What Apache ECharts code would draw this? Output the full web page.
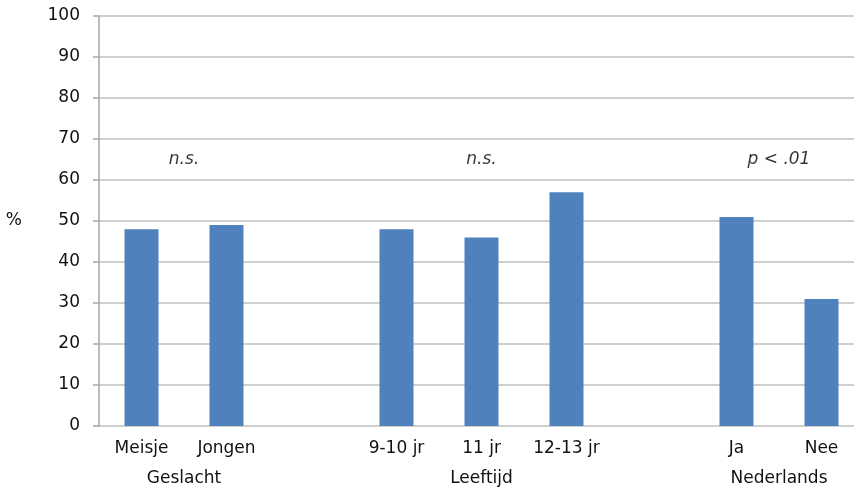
<!DOCTYPE html>
<html>
<head>
<meta charset="utf-8">
<script src="https://cdn.jsdelivr.net/npm/echarts@6/dist/echarts.min.js"></script>
<style>
html,body{margin:0;padding:0;background:#fff;}
#chart{width:854px;height:490px;}
</style>
</head>
<body>
<div id="chart"></div>
<script>
const categories = ['Meisje', 'Jongen', '', '9-10 jr', '11 jr', '12-13 jr', '', 'Ja', 'Nee'];
const values = [48, 49, null, 48, 46, 57, null, 51, 31];
const groupNames = ['Geslacht', 'Leeftijd', 'Nederlands'];
const groupSlots = [2, 9, 16]; // positions on a 19-point half-category scale
const annotations = ['n.s.', 'n.s.', 'p < .01'];
const annotationY = 65;
const yTicks = [0, 10, 20, 30, 40, 50, 60, 70, 80, 90, 100];

const FONT = 'DejaVu Sans';
const halfSlots = Array.from({length: 19}, (_, i) => {
  const g = groupSlots.indexOf(i);
  return g >= 0 ? groupNames[g] : '';
});
const annData = groupSlots.map((s, i) => [s, annotationY, annotations[i]]);

const chart = echarts.init(document.getElementById('chart'));
chart.setOption({
  animation: false,
  textStyle: {fontFamily: FONT},
  grid: {left: 99, top: 16, width: 765, height: 410, containLabel: false, outerBoundsMode: 'none'},
  xAxis: [{
    type: 'category',
    data: categories,
    axisLine: {show: false},
    axisTick: {show: false},
    axisLabel: {color: '#111', fontSize: 17, margin: 14, interval: 0, fontFamily: FONT}
  }, {
    type: 'category',
    data: halfSlots,
    boundaryGap: false,
    position: 'bottom',
    axisLine: {show: false},
    axisTick: {show: false},
    axisLabel: {color: '#111', fontSize: 17, margin: 44, interval: 0, fontFamily: FONT}
  }],
  yAxis: {
    type: 'value',
    min: 0, max: 100, interval: 10,
    name: '%',
    nameLocation: 'middle',
    nameRotate: 0,
    nameGap: 77,
    nameTextStyle: {color: '#111', fontSize: 17, fontFamily: FONT},
    axisLine: {show: true, lineStyle: {color: '#a6a6a6', width: 1.5}},
    axisTick: {show: true, length: 6, lineStyle: {color: '#a6a6a6', width: 1.5}},
    splitLine: {lineStyle: {color: '#bfbfbf', width: 1.5}},
    axisLabel: {color: '#111', fontSize: 17, margin: 19, fontFamily: FONT}
  },
  series: [{
    type: 'bar',
    data: values,
    barWidth: 34,
    itemStyle: {color: '#4f81bd'},
    xAxisIndex: 0
  }, {
    type: 'scatter',
    xAxisIndex: 1,
    data: annData,
    symbolSize: 0,
    silent: true,
    label: {
      show: true,
      position: 'inside',
      formatter: p => p.data[2],
      color: '#000',
      fontStyle: 'italic',
      fontSize: 17,
      fontFamily: FONT
    }
  }]
});
</script>
</body>
</html>
